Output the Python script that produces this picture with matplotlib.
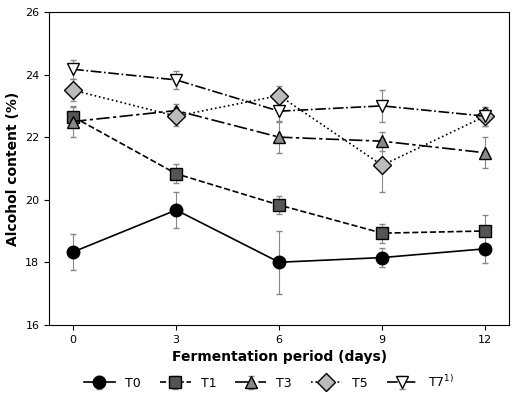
import matplotlib
matplotlib.use("Agg")
import matplotlib.pyplot as plt

days = [0, 3, 6, 9, 12]
labels = ["T0", "T1", "T3", "T5", "T7$^{1)}$"]
T0 = [18.33, 19.67, 18.0, 18.15, 18.43]
T0e = [0.58, 0.58, 1.0, 0.3, 0.45]
T1 = [22.65, 20.83, 19.83, 18.93, 19.0]
T1e = [0.3, 0.3, 0.3, 0.3, 0.5]
T3 = [22.5, 22.85, 22.0, 21.87, 21.5]
T3e = [0.5, 0.2, 0.5, 0.3, 0.5]
T5 = [23.5, 22.67, 23.33, 21.1, 22.67]
T5e = [0.35, 0.3, 0.3, 0.85, 0.3]
T7 = [24.17, 23.83, 22.83, 23.0, 22.67]
T7e = [0.3, 0.3, 0.3, 0.5, 0.3]

fig, ax = plt.subplots(figsize=(5.17, 4.01), dpi=100)
styles = [
    (T0, T0e, "o", "black", "-"),
    (T1, T1e, "s", "#555555", "--"),
    (T3, T3e, "^", "#888888", (0, (8, 2, 2, 2))),
    (T5, T5e, "D", "#bbbbbb", ":"),
    (T7, T7e, "v", "white", "-."),
]
for (y, e, m, c, ls), lab in zip(styles, labels):
    ax.errorbar(days, y, yerr=e, marker=m, color="black", mfc=c, mec="black",
                ms=9, ls=ls, lw=1.2, ecolor="#888888", elinewidth=0.8, capsize=2, label=lab)
ax.set_xlim(-0.7, 12.7)
ax.set_ylim(16, 26)
ax.set_xticks(days)
ax.set_yticks([16, 18, 20, 22, 24, 26])
ax.set_xlabel("Fermentation period (days)", fontweight="bold", fontsize=10)
ax.set_ylabel("Alcohol content (%)", fontweight="bold", fontsize=10)
ax.tick_params(labelsize=8)
ax.legend(loc="lower center", bbox_to_anchor=(0.52, 0.0), bbox_transform=fig.transFigure,
          ncol=5, frameon=False, fontsize=9, handlelength=2.5, columnspacing=1.5)
fig.subplots_adjust(left=0.095, right=0.985, top=0.97, bottom=0.19)
fig.savefig("out.png")
